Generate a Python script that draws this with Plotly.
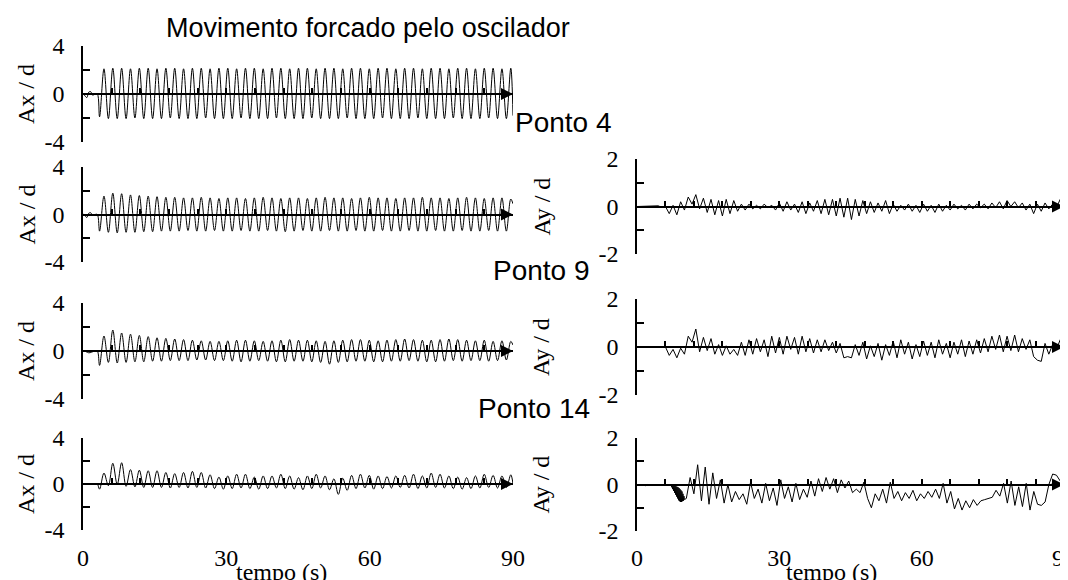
import plotly.graph_objects as go

W, H = 1068, 580
PAGE_OFFSET = 8   # default body margin of the html page
SERIF = "Liberation Serif, Times New Roman, serif"
SANS = "Liberation Sans, Arial, sans-serif"

# ---------------- data ----------------
T_START = 3.0      # forced oscillation starts (s)
T_END = 90.0

# Left column: Ax/d  (pre-start wiggle, then per-cycle trough / peak values)
P1_PRE_T = [0.0, 0.4, 0.8, 1.2, 1.6, 2.0, 2.5]
P1_PRE_V = [0.05, -0.15, -0.3, 0.15, 0.2, -0.1, 0.0]
P1_PEAKS = [2.1, 2.15, 2.15, 2.1, 2.15, 2.15, 2.1, 2.15, 2.15, 2.1, 2.15, 2.15, 2.1, 2.15, 2.15, 2.1,
            2.15, 2.15, 2.1, 2.15, 2.15, 2.1, 2.15, 2.15, 2.1, 2.15, 2.15, 2.1, 2.15, 2.15, 2.1, 2.15,
            2.15, 2.1, 2.15, 2.15, 2.1, 2.15, 2.15, 2.1, 2.15, 2.15, 2.1, 2.15, 2.15, 2.1, 2.15]
P1_TROUGHS = [-1.9, -2.05, -2.05, -2.05, -2.0, -2.05, -2.05, -2.05, -2.0, -2.05, -2.05, -2.05, -2.0,
              -2.05, -2.05, -2.05, -2.0, -2.05, -2.05, -2.05, -2.0, -2.05, -2.05, -2.05, -2.0, -2.05,
              -2.05, -2.05, -2.0, -2.05, -2.05, -2.05, -2.0, -2.05, -2.05, -2.05, -2.0, -2.05, -2.05,
              -2.05, -2.0, -2.05, -2.05, -2.05, -2.0, -2.05, -2.05]
P1_END = -1.8

P2_PRE_T = [0.0, 0.4, 0.8, 1.2, 1.6, 2.0, 2.5]
P2_PRE_V = [0.05, -0.1, -0.25, 0.1, 0.15, -0.05, 0.0]
P2_PEAKS = [1.55, 1.8, 1.75, 1.65, 1.6, 1.55, 1.5, 1.45, 1.45, 1.4, 1.4, 1.45, 1.4, 1.35, 1.4, 1.4,
            1.35, 1.4, 1.45, 1.4, 1.35, 1.4, 1.4, 1.35, 1.4, 1.45, 1.4, 1.4, 1.35, 1.4, 1.45, 1.4,
            1.4, 1.35, 1.4, 1.4, 1.45, 1.4, 1.4, 1.35, 1.4, 1.45, 1.4, 1.35, 1.4, 1.4, 1.3]
P2_TROUGHS = [-1.4, -1.5, -1.55, -1.5, -1.5, -1.45, -1.45, -1.4, -1.4, -1.4, -1.35, -1.4, -1.4,
              -1.35, -1.4, -1.4, -1.35, -1.4, -1.4, -1.35, -1.4, -1.45, -1.4, -1.35, -1.4, -1.4,
              -1.35, -1.4, -1.4, -1.35, -1.4, -1.4, -1.35, -1.4, -1.4, -1.35, -1.4, -1.4, -1.35,
              -1.4, -1.4, -1.35, -1.4, -1.4, -1.35, -1.4, -1.4]
P2_END = 0.9

P3_PRE_T = [0.0, 0.6, 1.2, 1.8, 2.4]
P3_PRE_V = [0.0, -0.05, -0.15, -0.1, 0.0]
P3_PEAKS = [1.25, 1.75, 1.5, 1.4, 1.3, 1.2, 1.1, 1.05, 1.0, 0.95, 0.9, 0.85, 0.8, 0.8, 0.85, 0.9,
            0.9, 0.85, 0.8, 0.85, 0.9, 0.95, 0.9, 0.9, 0.85, 0.8, 0.85, 0.9, 0.95, 0.95, 0.9, 0.85,
            0.9, 0.95, 1.0, 0.95, 0.9, 0.9, 0.95, 1.0, 0.95, 0.9, 0.85, 0.9, 0.8, 0.85, 0.8]
P3_TROUGHS = [-1.2, -0.95, -1.0, -0.95, -0.9, -0.9, -0.85, -0.85, -0.8, -0.8, -0.8, -0.75, -0.75,
              -0.8, -0.8, -0.85, -0.9, -0.85, -0.8, -0.85, -0.9, -0.9, -0.85, -0.85, -0.9, -0.95,
              -1.1, -0.95, -0.9, -0.85, -0.85, -0.9, -0.9, -0.85, -0.85, -0.8, -0.85, -0.9, -0.9,
              -0.85, -0.8, -0.85, -0.8, -0.8, -0.85, -0.8, -0.75]
P3_END = 0.5

P4_PRE_T = [0.0, 1.0, 2.0, 2.6]
P4_PRE_V = [0.0, 0.0, 0.0, 0.0]
P4_PEAKS = [0.95, 1.8, 1.85, 1.25, 1.2, 1.15, 1.15, 1.0, 0.9, 1.0, 1.1, 1.0, 0.8, 0.6, 0.7, 0.85,
            0.85, 0.6, 0.7, 0.7, 0.85, 0.7, 0.55, 0.7, 0.85, 0.7, 0.45, 0.5, 0.75, 0.85, 0.75, 0.7,
            0.65, 0.7, 0.75, 0.85, 0.7, 0.95, 0.85, 0.7, 0.6, 0.55, 0.7, 0.85, 0.75, 0.7, 0.8]
P4_TROUGHS = [-0.45, -0.15, -0.05, -0.2, -0.25, -0.3, -0.3, -0.3, -0.35, -0.3, -0.35, -0.3, -0.35,
              -0.4, -0.45, -0.4, -0.35, -0.4, -0.45, -0.4, -0.35, -0.4, -0.45, -0.5, -0.4, -0.35,
              -0.5, -0.9, -0.55, -0.4, -0.35, -0.45, -0.4, -0.35, -0.3, -0.35, -0.4, -0.35, -0.3,
              -0.35, -0.4, -0.45, -0.4, -0.35, -0.3, -0.35, -0.3]
P4_END = 0.0

# Right column: Ay/d (quiet start, then sampled values up to 90 s)
R2_PRE_T = [0.0, 3.0, 4.5, 5.2]
R2_PRE_V = [0.0, 0.0, 0.03, -0.04]
R2_START = 6.0
R2_VALUES = [0, -0.3, 0.05, -0.35, 0.2, -0.15, 0.4, 0.1, 0.5, -0.1, 0.35, -0.25, 0.3, -0.35, 0.25,
             -0.4, 0.3, -0.3, 0.25, -0.2, 0.1, -0.15, 0.1, -0.1, 0.05, -0.1, 0.1, -0.05, 0.05, -0.15,
             0.15, -0.2, 0.2, -0.15, 0.1, -0.25, 0.2, -0.3, 0.15, -0.2, 0.25, -0.3, 0.3, -0.35, 0.3,
             -0.4, 0.35, -0.45, 0.35, -0.55, 0.3, -0.4, 0.25, -0.3, 0.2, -0.25, 0.15, -0.2, 0.25,
             -0.3, 0.1, -0.2, 0.05, -0.15, 0.1, -0.2, 0.05, -0.25, 0.1, -0.2, 0.05, -0.25, 0.1, -0.2,
             0.05, -0.15, 0.1, -0.1, 0.05, -0.15, 0.1, -0.1, 0.1, -0.05, 0.1, -0.1, 0.15, -0.05, 0.2,
             -0.1, 0.25, 0.0, 0.2, -0.05, 0.15, -0.15, 0.1, -0.3, 0.1, -0.2, 0.15, -0.1, 0.1, -0.05,
             0.3, 0.1]

R3_PRE_T = [0.0, 3.0, 5.0]
R3_PRE_V = [0.0, 0.0, -0.02]
R3_START = 6.0
R3_VALUES = [0, -0.35, -0.1, -0.45, -0.05, -0.3, 0.45, 0.2, 0.75, -0.2, 0.4, -0.15, 0.35, -0.3, 0.1,
             -0.35, 0.05, -0.3, -0.1, -0.35, 0.2, -0.35, 0.3, -0.3, 0.35, -0.2, 0.3, -0.4, 0.45,
             -0.25, 0.4, -0.3, 0.45, -0.1, 0.4, -0.3, 0.45, -0.2, 0.35, -0.25, 0.3, -0.2, 0.3, -0.15,
             0.2, -0.25, 0.15, -0.45, -0.4, -0.45, 0.1, -0.35, 0.2, -0.5, 0.05, -0.4, 0.15, -0.55,
             0.1, -0.35, 0.25, -0.45, 0.3, -0.3, 0.2, -0.5, 0.1, -0.4, 0.25, -0.35, 0.2, -0.45, 0.3,
             -0.3, 0.15, -0.45, 0.2, -0.3, 0.3, -0.4, 0.25, -0.3, 0.3, -0.25, 0.35, -0.2, 0.45, -0.1,
             0.5, -0.2, 0.45, -0.15, 0.5, -0.2, 0.35, -0.1, 0.3, -0.4, -0.55, -0.6, 0.15, -0.3, 0.1,
             -0.1, 0.3, 0.05]

R4_PRE_T = [0.0, 1.5, 1.8, 2.2, 4.0, 5.5, 6.0, 6.8]
R4_PRE_V = [0.0, 0.0, -0.05, 0.0, 0.0, -0.03, 0.0, 0.0]
R4_WEDGE_START, R4_WEDGE_END = 7.0, 10.0
R4_WEDGE = [0, -0.05, 0, -0.12, -0.02, -0.2, -0.03, -0.28, -0.05, -0.36, -0.05, -0.44, -0.08, -0.52,
            -0.1, -0.6, -0.12, -0.68, -0.15, -0.72, -0.2, -0.75, -0.25, -0.75, -0.3, -0.72, -0.4,
            -0.7, -0.5, -0.65]
R4_START = 10.4
R4_VALUES = [-0.6, 0.3, -0.4, 0.85, -0.7, 0.75, -0.85, 0.5, -0.6, 0.2, -0.8, 0.0, -0.75, -0.3, -0.65,
             -0.4, -0.85, 0.1, -0.6, -0.2, -0.8, 0.05, -0.7, -0.15, -0.9, 0.2, -0.6, -0.1, -0.75, 0.05,
             -0.65, -0.2, -0.55, 0.15, -0.5, 0.25, -0.3, 0.3, -0.2, 0.25, -0.35, 0.2, -0.15, 0.15,
             -0.35, -0.2, -0.35, 0.1, -0.6, -1.0, -0.4, -0.7, -0.2, -0.8, 0.1, -0.6, -0.3, -0.7,
             -0.35, -0.6, -0.25, -0.7, -0.4, -0.6, -0.3, -0.55, -0.2, -0.6, 0.05, -0.8, -0.3, -1.05,
             -0.6, -1.1, -0.7, -1.0, -0.65, -0.9, -0.7, -0.65, -0.6, -0.55, -0.25, -0.5, 0.05, -0.8,
             0.15, -0.9, -0.1, -0.95, 0.05, -1.1, -0.3, -0.85, -0.9, -0.75, 0.0, 0.45, 0.4, 0.15, 0.3]

X_TICK_LABELS = [0, 30, 60, 90]
LEFT_Y_TICKS = ["-4", "", "0", "", "4"]
RIGHT_Y_TICKS = ["-2", "", "0", "", "2"]


# ---------------- helpers ----------------
def osc_series(pre_t, pre_v, peaks, troughs, end_v):
    n = min(len(peaks), len(troughs))
    per = (T_END - T_START) / n
    t = list(pre_t) + [T_START]
    v = list(pre_v) + [0.0]
    for i in range(n):
        t += [T_START + per * (i + 0.25), T_START + per * (i + 0.75)]
        v += [troughs[i], peaks[i]]
    t.append(T_END)
    v.append(end_v)
    return t, v


def sampled(start, end, values):
    n = len(values)
    step = (end - start) / (n - 1)
    return [start + i * step for i in range(n)], list(values)


# screen pixel -> paper fraction (the page places the figure PAGE_OFFSET px in)
def pyf(p):
    return 1 - (p - PAGE_OFFSET) / H


def pxf(p):
    return (p - PAGE_OFFSET) / W


# panel geometry (screen pixels)
LEFT_X = (83, 513)
RIGHT_X = (637, 1064)
panels = [
    # id, xpx, ypx(top,bottom), half range, ytitle, ticktext, title x
    (1, LEFT_X, (46, 142), 4, "Ax / d", LEFT_Y_TICKS, 26),
    (2, LEFT_X, (167, 262), 4, "Ax / d", LEFT_Y_TICKS, 26),
    (3, LEFT_X, (303, 399), 4, "Ax / d", LEFT_Y_TICKS, 26),
    (4, LEFT_X, (438, 530), 4, "Ax / d", LEFT_Y_TICKS, 26),
    (5, RIGHT_X, (159, 254), 2, "Ay / d", RIGHT_Y_TICKS, 541),
    (6, RIGHT_X, (299, 395), 2, "Ay / d", RIGHT_Y_TICKS, 541),
    (7, RIGHT_X, (438, 531), 2, "Ay / d", RIGHT_Y_TICKS, 541),
]

series = {
    1: (osc_series(P1_PRE_T, P1_PRE_V, P1_PEAKS, P1_TROUGHS, P1_END), "spline"),
    2: (osc_series(P2_PRE_T, P2_PRE_V, P2_PEAKS, P2_TROUGHS, P2_END), "spline"),
    3: (osc_series(P3_PRE_T, P3_PRE_V, P3_PEAKS, P3_TROUGHS, P3_END), "spline"),
    4: (osc_series(P4_PRE_T, P4_PRE_V, P4_PEAKS, P4_TROUGHS, P4_END), "spline"),
}
t5, v5 = sampled(R2_START, T_END, R2_VALUES)
series[5] = ((R2_PRE_T + t5, R2_PRE_V + v5), "linear")
t6, v6 = sampled(R3_START, T_END, R3_VALUES)
series[6] = ((R3_PRE_T + t6, R3_PRE_V + v6), "linear")
tw, vw = sampled(R4_WEDGE_START, R4_WEDGE_END, R4_WEDGE)
t7, v7 = sampled(R4_START, T_END, R4_VALUES)
series[7] = ((R4_PRE_T + tw + t7, R4_PRE_V + vw + v7), "linear")

fig = go.Figure()
layout = dict(
    width=W, height=H, margin=dict(l=0, r=0, t=0, b=0, pad=0, autoexpand=False),
    paper_bgcolor="white", plot_bgcolor="white", showlegend=False,
    font=dict(family=SERIF, size=24, color="black"),
)
annotations = []

for pid, xpx, ypx, R, ytitle, ttext, title_x in panels:
    (tt, vv), shape = series[pid]
    fig.add_trace(go.Scatter(
        x=tt, y=vv, mode="lines", xaxis=f"x{pid}", yaxis=f"y{pid}",
        line=dict(color="black", width=1, shape=shape, smoothing=1.0 if shape == "spline" else None),
        hoverinfo="skip",
    ))
    top, bot = ypx
    layout[f"xaxis{pid}"] = dict(
        domain=[pxf(xpx[0]), pxf(xpx[1])], range=[0, T_END], anchor="free",
        position=pyf((top + bot) / 2), showline=True, linecolor="black", linewidth=2,
        ticks="inside", ticklen=5, tickwidth=1.5, tickcolor="black", tick0=0, dtick=6,
        showticklabels=False, showgrid=False, zeroline=False, fixedrange=True, automargin=False,
    )
    layout[f"yaxis{pid}"] = dict(
        domain=[pyf(bot), pyf(top)], range=[-R, R], anchor=f"x{pid}",
        showline=True, linecolor="black", linewidth=1.5,
        ticks="inside", ticklen=7, tickwidth=1.5, tickcolor="black",
        tickvals=[-R, -R / 2, 0, R / 2, R], ticktext=ttext,
        tickfont=dict(family=SERIF, size=24, color="black"), ticklabelstandoff=12,
        showgrid=False, zeroline=False, fixedrange=True, automargin=False,
    )
    annotations.append(dict(
        x=pxf(title_x), y=pyf((top + bot) / 2), xref="paper", yref="paper", text=ytitle,
        textangle=-90, showarrow=False, xanchor="center", yanchor="middle",
        font=dict(family=SERIF, size=24, color="black"),
    ))
    annotations.append(dict(
        x=T_END, y=0, xref=f"x{pid}", yref=f"y{pid}", text="", showarrow=True,
        ax=-14, ay=0, arrowhead=2, arrowsize=1.2, arrowwidth=2, arrowcolor="black",
    ))

# bottom tick-label axes (0, 30, 60, 90)
for new_id, base_id, xpx in [(8, 4, LEFT_X), (9, 7, RIGHT_X)]:
    fig.add_trace(go.Scatter(x=[None], y=[None], xaxis=f"x{new_id}", yaxis=f"y{base_id}",
                             mode="lines", hoverinfo="skip"))
    layout[f"xaxis{new_id}"] = dict(
        domain=[pxf(xpx[0]), pxf(xpx[1])], range=[0, T_END], overlaying=f"x{base_id}",
        anchor="free", position=pyf(541), showline=False, ticks="",
        tickvals=X_TICK_LABELS, ticktext=[str(v) for v in X_TICK_LABELS],
        tickfont=dict(family=SERIF, size=24, color="black"),
        showgrid=False, zeroline=False, fixedrange=True, automargin=False,
    )

annotations += [
    dict(x=pxf(368), y=pyf(28), xref="paper", yref="paper", text="Movimento forcado pelo oscilador",
         showarrow=False, xanchor="center", yanchor="middle", font=dict(family=SANS, size=27)),
    dict(x=pxf(513), y=pyf(122), xref="paper", yref="paper", text="Ponto 4",
         showarrow=False, xanchor="left", yanchor="middle", font=dict(family=SANS, size=28)),
    dict(x=pxf(592), y=pyf(270), xref="paper", yref="paper", text="Ponto 9",
         showarrow=False, xanchor="right", yanchor="middle", font=dict(family=SANS, size=28)),
    dict(x=pxf(592), y=pyf(408), xref="paper", yref="paper", text="Ponto 14",
         showarrow=False, xanchor="right", yanchor="middle", font=dict(family=SANS, size=28)),
    dict(x=pxf(281), y=pyf(572), xref="paper", yref="paper", text="tempo (s)",
         showarrow=False, xanchor="center", yanchor="middle", font=dict(family=SERIF, size=24)),
    dict(x=pxf(831), y=pyf(572), xref="paper", yref="paper", text="tempo (s)",
         showarrow=False, xanchor="center", yanchor="middle", font=dict(family=SERIF, size=24)),
]
layout["annotations"] = annotations
fig.update_layout(**layout)
fig.write_html("out.html")
